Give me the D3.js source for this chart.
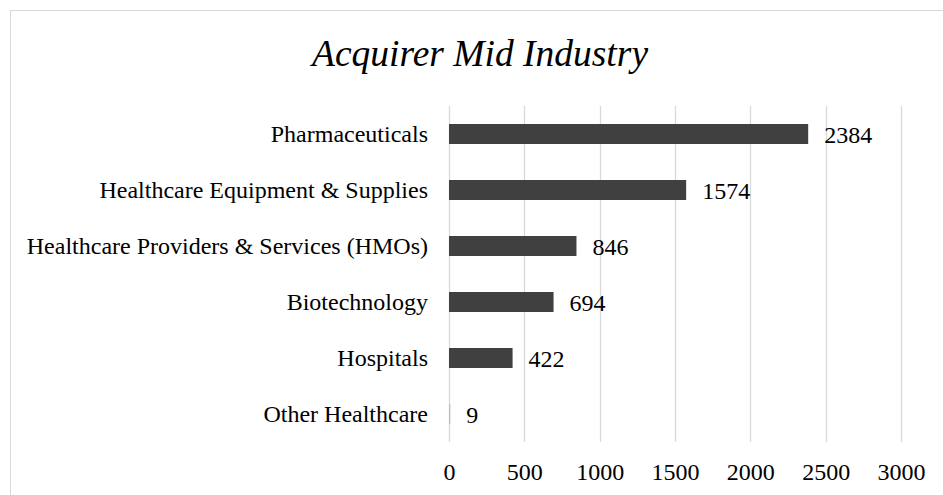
<!DOCTYPE html>
<html>
<head>
<meta charset="utf-8">
<script src="https://cdn.jsdelivr.net/npm/d3@7"></script>
<style>
  html, body { margin: 0; padding: 0; background: #fff; }
  svg { display: block; }
</style>
</head>
<body>
<svg id="chart" width="943" height="495"></svg>
<script>
const title = "Acquirer Mid Industry";
const categories = [
  "Pharmaceuticals",
  "Healthcare Equipment & Supplies",
  "Healthcare Providers & Services (HMOs)",
  "Biotechnology",
  "Hospitals",
  "Other Healthcare"
];
const values = [2384, 1574, 846, 694, 422, 9];
const tickValues = [0, 500, 1000, 1500, 2000, 2500, 3000];

const W = 943, H = 495;
const svg = d3.select("#chart");
const font = "'Liberation Serif', 'Times New Roman', serif";

// chart area border
svg.append("rect")
  .attr("x", 10.5).attr("y", 10.5)
  .attr("width", W).attr("height", H)
  .attr("fill", "#fff")
  .attr("stroke", "#d9d9d9")
  .attr("stroke-width", 1);

const plot = { left: 449, right: 901, top: 106, bottom: 442 };

const x = d3.scaleLinear().domain([0, 3000]).range([plot.left, plot.right]);
const y = d3.scaleBand().domain(categories).range([plot.top, plot.bottom])
  .paddingInner(0.643).paddingOuter(0.3215);

// title
svg.append("text")
  .attr("x", 480).attr("y", 66)
  .attr("text-anchor", "middle")
  .attr("font-family", font)
  .attr("font-style", "italic")
  .attr("font-size", 37.5)
  .attr("fill", "#000")
  .text(title);

// gridlines
svg.append("g")
  .selectAll("line")
  .data(tickValues)
  .join("line")
  .attr("x1", d => Math.round(x(d)) + 0.5)
  .attr("x2", d => Math.round(x(d)) + 0.5)
  .attr("y1", plot.top)
  .attr("y2", plot.bottom)
  .attr("stroke", "#d9d9d9")
  .attr("stroke-width", 1.3);

// x axis labels
const xAxis = d3.axisBottom(x).tickValues(tickValues).tickFormat(d3.format("d")).tickSize(0).tickPadding(0);
const gx = svg.append("g")
  .attr("transform", `translate(0, ${plot.bottom})`)
  .call(xAxis);
gx.select(".domain").remove();
gx.selectAll("text")
  .attr("y", 38).attr("dy", 0)
  .attr("font-family", font)
  .attr("font-size", 24)
  .attr("fill", "#000");

// y axis labels
const yAxis = d3.axisLeft(y).tickSize(0).tickPadding(0);
const gy = svg.append("g")
  .attr("transform", `translate(${plot.left}, 0)`)
  .call(yAxis);
gy.select(".domain").remove();
gy.selectAll("text")
  .attr("x", -21).attr("dy", "0.33em")
  .attr("font-family", font)
  .attr("font-size", 24)
  .attr("fill", "#000");

// bars
svg.append("g")
  .selectAll("rect")
  .data(categories)
  .join("rect")
  .attr("x", x(0))
  .attr("y", d => y(d))
  .attr("width", (d, i) => x(values[i]) - x(0))
  .attr("height", y.bandwidth())
  .attr("fill", (d, i) => values[i] < 50 ? "#bfbfbf" : "#404040");

// value labels
svg.append("g")
  .selectAll("text")
  .data(categories)
  .join("text")
  .attr("x", (d, i) => x(values[i]) + 16)
  .attr("y", d => y(d) + y.bandwidth() / 2)
  .attr("dy", "0.37em")
  .attr("font-family", font)
  .attr("font-size", 24)
  .attr("fill", "#000")
  .text((d, i) => values[i]);
</script>
</body>
</html>
